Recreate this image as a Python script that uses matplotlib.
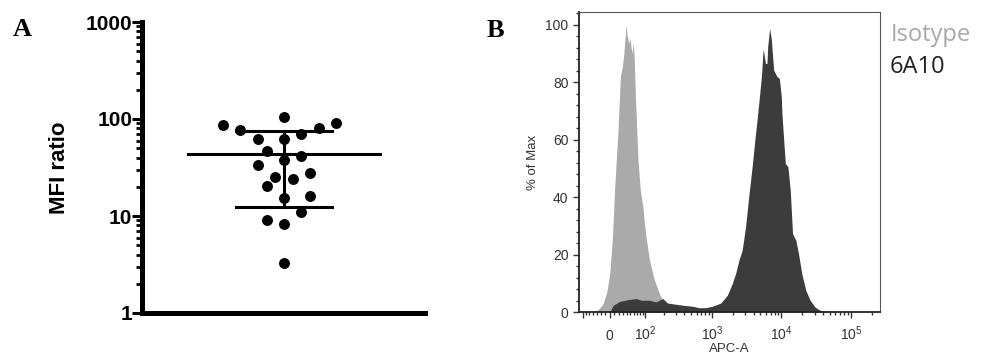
import numpy as np
import matplotlib
matplotlib.use("Agg")
import matplotlib.pyplot as plt
from matplotlib.ticker import FixedLocator, FixedFormatter, LogLocator, NullFormatter, MultipleLocator

plt.rcParams['font.family'] = ['Liberation Sans', 'DejaVu Sans']
plt.rcParams['mathtext.fontset'] = 'custom'
plt.rcParams['mathtext.rm'] = 'Liberation Sans'
plt.rcParams['mathtext.it'] = 'Liberation Sans'

# panel A: MFI ratio per sample (log scale), x offset = swarm column
mfi_ratio = [105, 87, 76.6, 91, 80, 70.7, 62.6, 62, 46.8, 38.2, 41.5, 33.8,
             27.7, 25.1, 24.3, 20.5, 15.2, 16.2, 11, 9.1, 8.3, 3.28]
swarm_col = [0, -7, -5, 6, 4, 2, -3, 0, -2, 0, 2, -3,
             3, -1, 1, -2, 0, 3, 2, -2, 0, 0]
mfi_mean = 43.5
mfi_low, mfi_high = 12.4, 74.8

# panel B: histograms, APC-A value vs % of max
iso_x = [-40, -26.8, -15.1, -6.7, 0, 6.0, 11.2, 18.8, 24.4, 29.2, 32.4, 37.5, 39.3,
         40.8, 46.1, 50, 51.7, 54.6, 57.5, 60.6, 65, 73.2, 81.1, 90.3, 100.7,
         117.5, 141.7, 169.3, 201.6, 240.2, 301, 398]
iso_y = [0, 0.8, 2.9, 7, 13.4, 26, 43.6, 63.4, 82, 85.5, 89.5, 98.2, 100,
         96.5, 93.6, 95.3, 92.4, 90, 93.6, 90, 75, 52.9, 42.4, 36.6, 27.3,
         18, 11, 6.4, 2.9, 1.2, 0.3, 0]

ab_x = [0, 7.4, 22.8, 43.4, 68, 84.6, 117.5, 150.4, 190.2, 226, 301, 398, 524, 655,
        817, 1015, 1340, 1664, 1963, 2195, 2446, 2727, 3051, 3400, 3791, 4240,
        4468, 4723, 5161, 5447, 5569, 5889, 6208, 6351, 6786, 7174, 7738, 8629,
        9336, 9975, 10173, 11376, 12396, 13416, 14470, 16130, 17612, 19632,
        22400, 25894, 30505, 35986, 42391, 50442]
ab_y = [0, 2.3, 3.7, 4.3, 4.7, 4.1, 4.1, 3.5, 4.7, 3.1, 2.7, 2.3, 2.0, 1.5,
        1.5, 2.0, 3.1, 5.8, 9.9, 13.4, 18, 21.5, 29.6, 40.5, 50.5, 62,
        66.9, 72.7, 82, 91.2, 90.6, 86.6, 86.6, 92.4, 98.8, 94.8, 84.3, 82,
        81.4, 75, 69.2, 51.8, 50.6, 42.4, 27.3, 25, 20.4, 13.4,
        7.6, 4.1, 1.7, 0.6, 0.2, 0]

x_major = [-70, 0, 100, 1000, 10000, 100000]
x_labels = ['', '0', '$10^2$', '$10^3$', '$10^4$', '$10^5$']

fig = plt.figure(figsize=(9.81, 3.56), dpi=100)

# ---- panel A
axA = fig.add_axes([142 / 981, 43 / 356, 283 / 981, 291 / 356])
axA.scatter(swarm_col, mfi_ratio, s=62, color='black', zorder=3, linewidths=0)
axA.plot([-11, 11], [mfi_mean, mfi_mean], color='black', lw=2.2, zorder=2)
axA.plot([-5.5, 5.5], [mfi_high, mfi_high], color='black', lw=2.2, zorder=2)
axA.plot([-5.5, 5.5], [mfi_low, mfi_low], color='black', lw=2.2, zorder=2)
axA.plot([0, 0], [mfi_low, mfi_high], color='black', lw=2.2, zorder=2)
axA.set_yscale('log')
axA.set_ylim(1, 1000)
axA.set_xlim(-16.3, 16.2)
axA.set_xticks([])
axA.yaxis.set_major_locator(FixedLocator([1, 10, 100, 1000]))
axA.yaxis.set_major_formatter(FixedFormatter(['1', '10', '100', '1000']))
axA.yaxis.set_minor_locator(LogLocator(base=10, subs=np.arange(2, 10)))
axA.yaxis.set_minor_formatter(NullFormatter())
axA.tick_params(axis='y', which='major', length=7, width=2.2, pad=0, labelsize=15)
axA.tick_params(axis='y', which='minor', length=4.3, width=2)
for lab in axA.get_yticklabels():
    lab.set_fontweight('bold')
for s in ['top', 'right']:
    axA.spines[s].set_visible(False)
for s in ['left', 'bottom']:
    axA.spines[s].set_linewidth(3.6)
axA.set_ylabel('MFI ratio', fontsize=16, fontweight='bold', labelpad=11)
fig.text(13 / 981, 1 - 36 / 356, 'A', family='Liberation Serif', fontweight='bold', fontsize=19)

# ---- panel B
ln10 = np.log(10)


def fwd(v):
    return np.arcsinh(np.asarray(v) / 68.0) / ln10


def inv(t):
    return 68.0 * np.sinh(np.asarray(t) * ln10)


axB = fig.add_axes([579 / 981, 44 / 356, 301 / 981, 300 / 356])
axB.set_xscale('function', functions=(fwd, inv))
axB.fill_between(iso_x, iso_y, 0, color='#aaaaaa', lw=0)
axB.fill_between(ab_x, ab_y, 0, color='#3c3c3c', lw=0)
axB.set_xlim(-82, 262143)
axB.set_ylim(0, 104.5)
axB.xaxis.set_major_locator(FixedLocator(x_major))
axB.xaxis.set_major_formatter(FixedFormatter(x_labels))
minor = [-60, -50, -40, -30, -20, -10] + list(range(10, 100, 10))
for d in [100, 1000, 10000, 100000]:
    minor += [m * d for m in range(2, 10) if m * d < 262143]
axB.xaxis.set_minor_locator(FixedLocator(minor))
axB.yaxis.set_major_locator(FixedLocator([0, 20, 40, 60, 80, 100]))
axB.yaxis.set_minor_locator(MultipleLocator(4))
axB.tick_params(axis='both', which='major', length=4, width=1, labelsize=10, colors='#333333')
axB.tick_params(axis='both', which='minor', length=2, width=1, colors='#333333')
axB.tick_params(axis='x', which='major', pad=16)
for t in axB.xaxis.get_major_ticks():
    t.label1.set_verticalalignment('baseline')
for s in ['left', 'bottom']:
    axB.spines[s].set_linewidth(1.3)
    axB.spines[s].set_color('#222222')
for s in ['top', 'right']:
    axB.spines[s].set_linewidth(0.8)
    axB.spines[s].set_color('#555555')
axB.set_ylabel('% of Max', fontsize=9.5, color='#333333', labelpad=5)
axB.set_xlabel('APC-A', fontsize=9.5, color='#333333', labelpad=0)
fig.text(487 / 981, 1 - 37 / 356, 'B', family='Liberation Serif', fontweight='bold', fontsize=19)
fig.text(891 / 981, 1 - 40.7 / 356, 'Isotype', family='Open Sans', fontsize=17, color='#a8a8a8')
fig.text(890 / 981, 1 - 73 / 356, '6A10', family='Open Sans', fontsize=17, color='#222222')

fig.savefig('out.png', dpi=100)
